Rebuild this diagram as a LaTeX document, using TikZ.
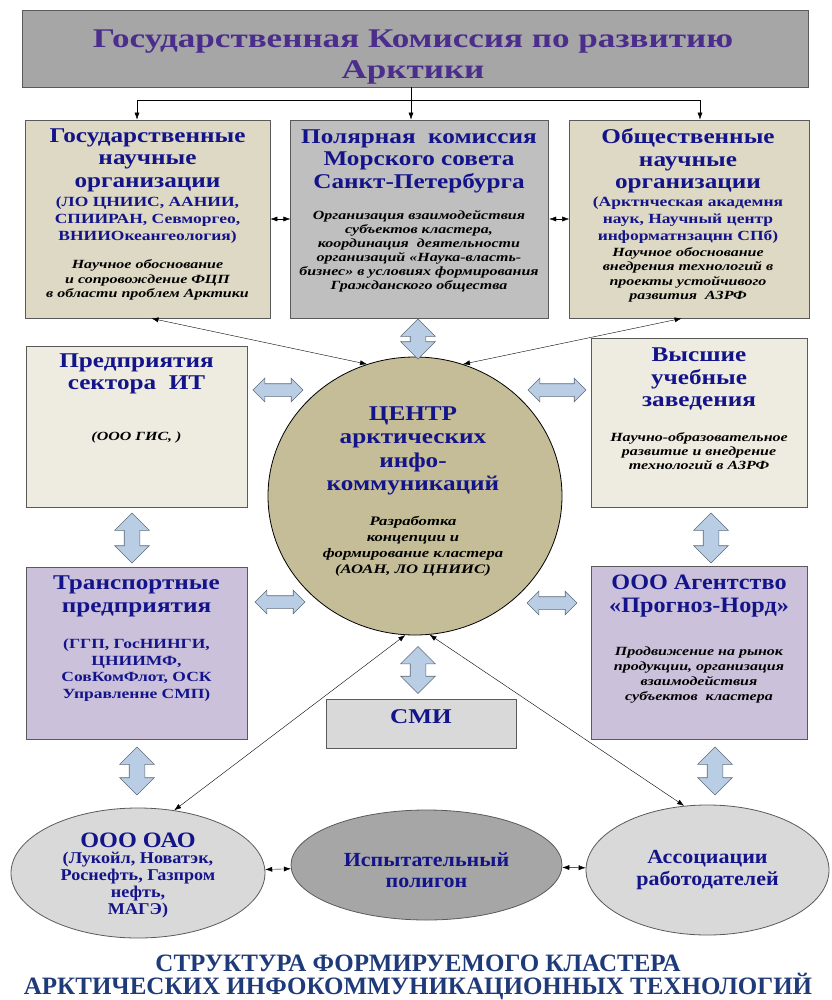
\documentclass[tikz,border=0pt]{standalone}
\usepackage{fontspec}
\setmainfont{Liberation Serif}[BoldFont={* Bold}, ItalicFont={* Italic}, BoldItalicFont={* Bold Italic}]
\usetikzlibrary{positioning,arrows.meta,shapes.geometric,shapes.arrows}

\definecolor{boxline}{HTML}{5A5A5A}
\definecolor{ttlfill}{HTML}{A6A6A6}
\definecolor{ttltext}{HTML}{4B2D8C}
\definecolor{hdblue}{HTML}{14148A}
\definecolor{capblue}{HTML}{1F3A78}
\definecolor{beige}{HTML}{DDD9C4}
\definecolor{midgray}{HTML}{BFBFBF}
\definecolor{paper}{HTML}{EEECE1}
\definecolor{lilac}{HTML}{CCC1DA}
\definecolor{khaki}{HTML}{C4BD97}
\definecolor{ltgray}{HTML}{D9D9D9}
\definecolor{blkfill}{HTML}{B9CDE5}
\definecolor{blkline}{HTML}{5F6B78}

% fonts
\newcommand\ttlfnt{\fontsize{27}{31}\selectfont\bfseries\addfontfeature{FakeStretch=1.3}}
\newcommand\hdfnt{\fontsize{21}{22.5}\selectfont\bfseries\addfontfeature{FakeStretch=1.2}}
\newcommand\subfnt{\fontsize{14}{17}\selectfont\bfseries\addfontfeature{FakeStretch=1.25}}
\newcommand\notefnt{\fontsize{12.5}{14.5}\selectfont\bfseries\itshape\addfontfeature{FakeStretch=1.28}}
\newcommand\elfnt{\fontsize{20}{21.5}\selectfont\bfseries\addfontfeature{FakeStretch=1.1}}
\newcommand\capfnt{\fontsize{25}{23}\selectfont\bfseries}

\begin{document}
\begin{tikzpicture}[x=1pt, y=-1pt, >={Latex[length=7pt, width=5pt]},
    box/.style={draw=boxline, line width=0.8pt, inner sep=0pt},
    hd/.style={text=hdblue, align=center, font=\hdfnt},
    sub/.style={text=hdblue, align=center, font=\subfnt},
    note/.style={align=center, font=\notefnt},
    eltext/.style={text=hdblue, align=center, font=\elfnt},
    blk/.style={double arrow, draw=blkline, fill=blkfill, line width=0.6pt,
      text height=0pt, text depth=0pt, inner xsep=0pt},
    hblk/.style={blk, inner ysep=6pt, double arrow head extend=5.5pt, minimum width=23pt},
    vblk/.style={blk, rotate=90, inner ysep=7.5pt, double arrow head extend=9.5pt, minimum width=34pt}]
  \useasboundingbox (0,0) rectangle (831,1000);

  % commission on top
  \node[box, fill=ttlfill, minimum width=786pt, minimum height=77pt] (gos) at (415,48.5) {};
  \node[text=ttltext, align=center, font=\ttlfnt] (gosT) at (413,57) {Государственная Комиссия по развитию\\Арктики};

  % first row
  \node[box, fill=beige, minimum width=245pt, minimum height=198pt] (gno) at (147.5,219) {};
  \node[box, fill=midgray, minimum width=258pt, minimum height=198pt] (pk) [right=20pt of gno] {};
  \node[box, fill=beige, minimum width=240pt, minimum height=198pt] (ono) [right=20pt of pk] {};

  \node[hd] (gnoH) at (147.5,160) {Государственные\\научные\\организации};
  \node[sub] (gnoS) at (147.5,220) {(ЛО ЦНИИС, ААНИИ,\\СПИИРАН, Севморгео,\\ВНИИОкеангеология)};
  \node[note] (gnoN) at (147.5,280) {Научное обоснование\\и сопровождение ФЦП\\в области проблем Арктики};

  \node[hd] (pkH) at (419,161) {Полярная~ комиссия\\Морского совета\\Санкт-Петербурга};
  \node[note, font=\notefnt\linespread{0.97}\selectfont] (pkN) at (419,251) {Организация взаимодействия\\субъектов кластера,\\координация~ деятельности\\организаций «Наука-власть-\\бизнес» в условиях формирования\\Гражданского общества};

  \node[hd] (onoH) at (688,161) {Общественные\\научные\\организации};
  \node[sub] (onoS) at (688,220) {(Арктнческая академня\\наук, Научный центр\\информатнзацнн СПб)};
  \node[note] (onoN) at (688,275) {Научное обоснование\\внедрения технологий в\\проекты устойчивого\\развития~ АЗРФ};

  % centre
  \node[ellipse, draw=black, line width=0.8pt, fill=khaki, minimum width=294pt, minimum height=278pt, inner sep=0pt] (ctr) at (415,496) {};
  \node[hd, font=\hdfnt\fontsize{21}{23.3}\selectfont] (ctrH) at (413,451) {ЦЕНТР\\арктических\\инфо-\\коммуникаций};
  \node[note, font=\notefnt\fontsize{13}{16}\selectfont] (ctrN) at (413,546) {Разработка\\концепции и\\формирование кластера\\(АОАН, ЛО ЦНИИС)};

  % second row
  \node[box, fill=paper, minimum width=221pt, minimum height=161pt] (it) at (136.5,426.5) {};
  \node[hd] (itH) at (136.5,374) {Предприятия\\сектора~ ИТ};
  \node[note] (itN) at (136.5,437) {(ООО ГИС, )};

  \node[box, fill=paper, minimum width=216pt, minimum height=169pt] (vuz) at (699,422.5) {};
  \node[hd] (vuzH) at (699,379) {Высшие\\учебные\\заведения};
  \node[note, font=\notefnt\fontsize{12.5}{14}\selectfont] (vuzN) at (699,451) {Научно-образовательное\\развитие и внедрение\\технологий в АЗРФ};

  % third row
  \node[box, fill=lilac, minimum width=221pt, minimum height=172pt] (tr) at (136.5,653) {};
  \node[hd, font=\hdfnt\fontsize{21}{23}\selectfont] (trH) at (136.5,596) {Транспортные\\предприятия};
  \node[sub, font=\subfnt\fontsize{14}{16.7}\selectfont] (trS) at (136.5,670) {(ГГП, ГосНИНГИ,\\ЦНИИМФ,\\СовКомФлот, ОСК\\Управленне СМП)};

  \node[box, fill=lilac, minimum width=216pt, minimum height=173pt] (pn) at (699,652.5) {};
  \node[hd, font=\fontsize{22}{22.5}\selectfont\bfseries\addfontfeature{FakeStretch=1.1}] (pnH) at (699,596) {ООО Агентство\\«Прогноз-Норд»};
  \node[note, font=\notefnt\fontsize{12.5}{15.3}\selectfont] (pnN) at (699,675) {Продвижение на рынок\\продукции, организация\\взаимодействия\\субъектов~ кластера};

  \node[box, fill=ltgray, minimum width=190pt, minimum height=49pt] (smi) at (421,723.5) {};
  \node[hd] (smiT) at (421,717) {СМИ};

  % bottom row
  \node[ellipse, draw=boxline, line width=0.8pt, fill=ltgray, minimum width=254pt, minimum height=130pt, inner sep=0pt] (oao) at (138,873) {};
  \node[ellipse, draw=boxline, line width=0.8pt, fill=ttlfill, minimum width=271pt, minimum height=110pt, inner sep=0pt] (poly) at (426.5,865) {};
  \node[ellipse, draw=boxline, line width=0.8pt, fill=ltgray, minimum width=243pt, minimum height=130pt, inner sep=0pt] (asc) at (707.5,870) {};

  \node[eltext, font=\elfnt\fontsize{22}{22}\selectfont] (oaoH) at (138,840) {ООО ОАО};
  \node[eltext, font=\elfnt\fontsize{16.5}{16.7}\selectfont] (oaoS) at (138,885) {(Лукойл, Новатэк,\\Роснефть, Газпром\\нефть,\\МАГЭ)};
  \node[eltext] (polyT) at (426.5,870) {Испытательный\\полигон};
  \node[eltext] (ascT) at (707.5,870) {Ассоциации\\работодателей};

  % caption
  \node[text=capblue, align=center, font=\capfnt] (cap) at (418,977) {СТРУКТУРА ФОРМИРУЕМОГО КЛАСТЕРА\\АРКТИЧЕСКИХ ИНФОКОММУНИКАЦИОННЫХ ТЕХНОЛОГИЙ};

  % block arrows
  \node[hblk, minimum height=50pt] (a1) at (278,390) {};
  \node[hblk, minimum height=58pt] (a2) at (557,390) {};
  \node[hblk, minimum height=50pt] (a3) at (280,602) {};
  \node[hblk, minimum height=50pt] (a4) at (552,603) {};
  \node[vblk, minimum height=40pt] (a5) at (418,339) {};
  \node[vblk, minimum height=50pt] (a6) at (132,538) {};
  \node[vblk, minimum height=50pt] (a7) at (711,538) {};
  \node[vblk, minimum height=47pt] (a8) at (418,670) {};
  \node[vblk, minimum height=48pt] (a9) at (137,771) {};
  \node[vblk, minimum height=48pt] (a10) at (715,771) {};

  % links from the commission
  \coordinate (bus) at (411,100);
  \coordinate (busl) at (137,100);
  \coordinate (busr) at (700,100);
  \draw (gos.south -| bus) -- (bus);
  \draw (busl) -- (busr);
  \draw[->] (busl) -- (busl |- gno.north);
  \draw[->] (bus) -- (bus |- pk.north);
  \draw[->] (busr) -- (busr |- ono.north);

  \path[<->] (gno) edge (pk);
  \path[<->] (pk) edge (ono);
  \path[<->] ([xshift=4pt]gno.south) edge (ctr.110);
  \path[<->] ([xshift=-8pt]ono.south) edge (ctr.70);
  \path[<->] (ctr.266) edge (oao.60);
  \path[<->] (ctr.276) edge (asc.110);
  \path[<->] (oao) edge (poly);
  \path[<->] (poly) edge (asc);
\end{tikzpicture}
\end{document}
